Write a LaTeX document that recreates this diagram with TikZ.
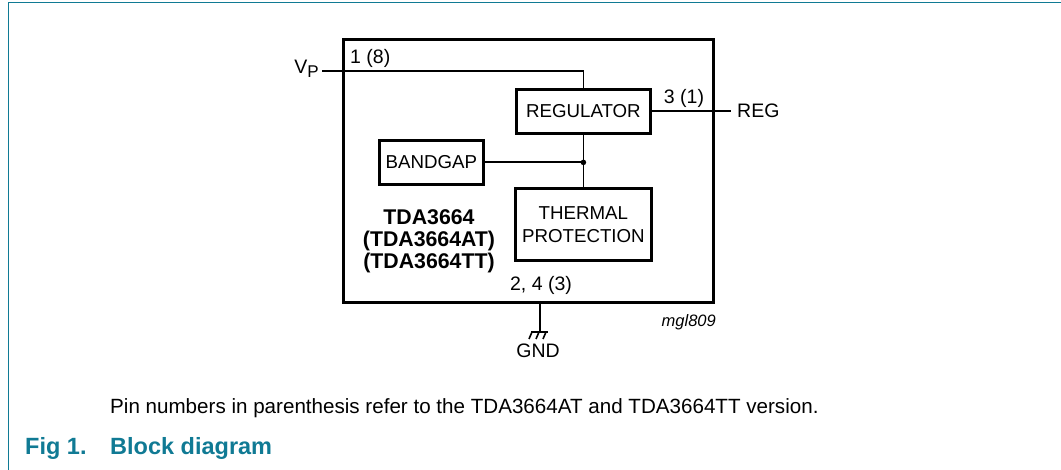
\documentclass[tikz,border=0pt]{standalone}
\usepackage{fontspec}
\setmainfont{Liberation Sans}
\definecolor{nxpteal}{RGB}{16,122,148}
\begin{document}
\begin{tikzpicture}[x=1pt,y=-1pt,
  blk/.style={draw,line width=2.8pt,inner sep=0pt,anchor=north west},
  wire/.style={line width=1.8pt},
  lbl/.style={font=\fontsize{18.7}{21}\selectfont,inner sep=0pt},
  pin/.style={font=\fontsize{19.5}{22}\selectfont,inner sep=0pt}]
\useasboundingbox (0,0) rectangle (1061,470);
% frame
\draw[nxpteal,line width=1.8pt] (8.5,470) -- (8.5,2.5) -- (1061,2.5);
% IC outline
\node[blk,minimum width=370pt,minimum height=263pt] (ic) at (342,38) {};
\node[blk,minimum width=134pt,minimum height=44pt] (reg) at (515,88) {};
\node[lbl] at (reg.center) {REGULATOR};
\node[blk,minimum width=104pt,minimum height=44pt] (bg) at (378,139) {};
\node[lbl] at (bg.center) {BANDGAP};
\node[blk,minimum width=136pt,minimum height=72pt] (th) at (514,187) {};
\node[lbl,align=center,font=\fontsize{18.7}{23}\selectfont] at (th.center) {THERMAL\\PROTECTION};
% chip name
\node[inner sep=0pt,font=\fontsize{21.3}{22}\selectfont\bfseries,align=center] (name) at (429,241) {TDA3664\\(TDA3664AT)\\(TDA3664TT)};
% VP
\node[pin,anchor=east] (vp) at (319,68.5) {V\raisebox{-0.4ex}{\fontsize{17}{17}\selectfont P}};
\coordinate (vpend) at (322,71);
\draw[wire] (vpend) -| (reg.north);
\node[pin,anchor=south west] (p1) at (350,68) {1 (8)};
% REG
\coordinate (regend) at (731,111);
\draw[wire] (reg.east |- regend) -- (regend);
\node[pin,anchor=west] (regl) at (737,111) {REG};
\node[pin,anchor=south] (p3) at (684,108) {3 (1)};
% junction
\draw[wire] (reg.south) -- (th.north);
\coordinate (j) at (reg.south |- bg.east);
\draw[wire] (bg.east) -- (j);
\fill (j) circle (2.8pt);
% GND
\node[pin,anchor=south] (p2) at (541,295) {2, 4 (3)};
\coordinate (gtop) at (540,301);
\coordinate (gbot) at (540,332);
\draw[wire] (gtop) -- (gbot);
\draw[wire] (531,332) -- (548,332);
\draw[line width=1.6pt] (532,332) -- (529,339) (539,332) -- (536,339) (546,332) -- (543,339);
\node[pin,anchor=north] (gnd) at (538,344) {GND};
\node[inner sep=0pt,font=\fontsize{16.5}{18}\selectfont\itshape,anchor=east] (mgl) at (716,322) {mgl809};
% captions
\node[inner sep=0pt,font=\fontsize{20.6}{23}\selectfont,anchor=west] (note) at (110,408) {Pin numbers in parenthesis refer to the TDA3664AT and TDA3664TT version.};
\node[inner sep=0pt,anchor=west,text=nxpteal,font=\fontsize{23.5}{26}\selectfont\bfseries] (fig) at (25,448) {Fig 1.};
\node[inner sep=0pt,anchor=west,text=nxpteal,font=\fontsize{23.5}{26}\selectfont\bfseries] (figt) at (110,448) {Block diagram};
\end{tikzpicture}
\end{document}
